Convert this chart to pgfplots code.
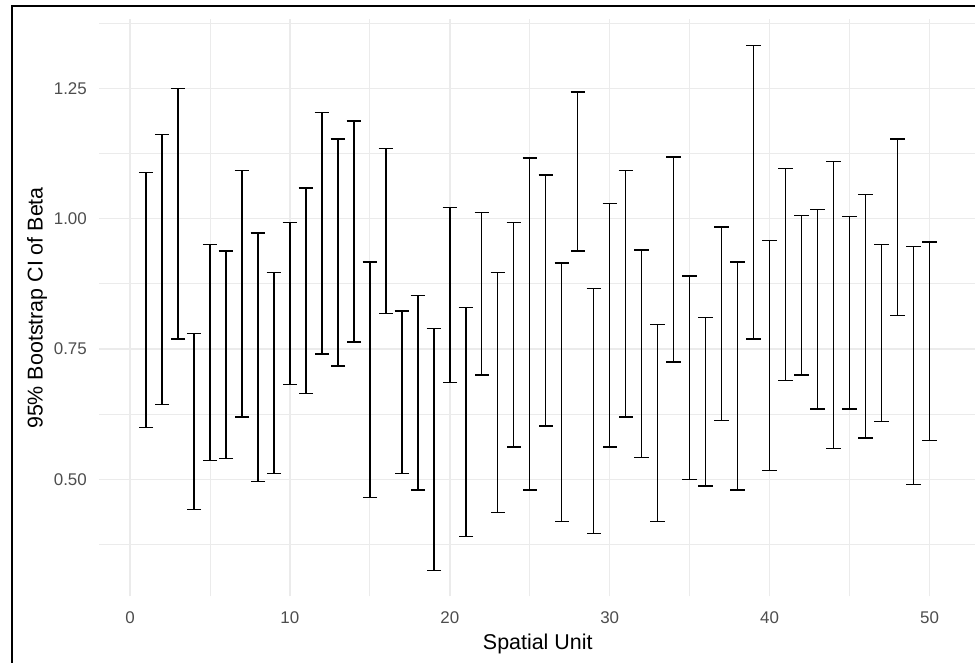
\documentclass[border=0pt]{standalone}
\usepackage{fontspec}
\setmainfont{Liberation Sans}
\usepackage{pgfplots}
\pgfplotsset{compat=1.18}
\usepackage{pgfplotstable}
\definecolor{gridc}{HTML}{EBEBEB}
\definecolor{tickc}{HTML}{4D4D4D}
\pgfplotstableread{
x lo hi
1 0.599 1.089
2 0.643 1.161
3 0.769 1.250
4 0.442 0.780
5 0.536 0.950
6 0.540 0.938
7 0.619 1.092
8 0.496 0.972
9 0.511 0.897
10 0.682 0.993
11 0.665 1.059
12 0.740 1.204
13 0.717 1.153
14 0.763 1.187
15 0.465 0.917
16 0.818 1.135
17 0.511 0.823
18 0.479 0.852
19 0.325 0.789
20 0.686 1.021
21 0.390 0.829
22 0.700 1.012
23 0.436 0.897
24 0.562 0.993
25 0.479 1.116
26 0.602 1.084
27 0.419 0.915
28 0.938 1.243
29 0.396 0.866
30 0.562 1.029
31 0.619 1.092
32 0.542 0.940
33 0.419 0.797
34 0.725 1.118
35 0.499 0.890
36 0.487 0.810
37 0.613 0.984
38 0.479 0.917
39 0.769 1.332
40 0.517 0.958
41 0.689 1.096
42 0.700 1.006
43 0.635 1.018
44 0.559 1.110
45 0.635 1.004
46 0.579 1.046
47 0.611 0.950
48 0.814 1.153
49 0.490 0.947
50 0.574 0.955
}\cidata
\begin{document}
\begin{tikzpicture}[x=1bp,y=1bp]
\path[use as bounding box] (0,0) rectangle (975,663);
\begin{axis}[
  at={(98.9bp,66.5bp)}, anchor=south west,
  scale only axis, width=877.7bp, height=577bp,
  xmin=-1.945, xmax=52.945, ymin=0.275, ymax=1.382,
  axis line style={draw=none},
  major tick length=0pt, minor tick length=0pt,
  xtick={0,10,...,50}, minor xtick={5,15,...,45},
  ytick={0.5,0.75,1,1.25}, minor ytick={0.375,0.625,0.875,1.125,1.375},
  grid=both,
  major grid style={gridc, line width=1.4bp},
  minor grid style={gridc, line width=0.8bp},
  /pgf/number format/assume math mode=true,
  tick label style={font=\fontsize{17}{20}\selectfont, text=tickc},
  xticklabel style={anchor=center, inner sep=0pt, yshift=-21.5bp},
  yticklabel style={anchor=east, inner sep=0pt, xshift=-11.9bp,
    /pgf/number format/.cd, fixed, fixed zerofill, precision=2},
  label style={font=\fontsize{21.5}{25}\selectfont, text=black},
  xlabel={Spatial Unit},
  ylabel={95\% Bootstrap CI of Beta},
  xlabel style={at={(axis description cs:0.5,-0.0815)}, anchor=center, inner sep=0pt},
  ylabel style={at={(axis description cs:-0.0705,0.5)}, anchor=center, inner sep=0pt},
]
\addplot[draw=none, mark=none,
  error bars/.cd, y dir=both, y explicit,
  error mark=|, error mark options={black, mark size=7.2bp, line width=1.4bp},
  error bar style={black, line width=1.4bp}]
  table[x=x, y expr={(\thisrow{lo}+\thisrow{hi})/2},
        y error expr={(\thisrow{hi}-\thisrow{lo})/2}] {\cidata};
\end{axis}
\draw[line width=2bp, black] (11.5,0) -- (11.5,656.5) -- (975,656.5);
\end{tikzpicture}
\end{document}
